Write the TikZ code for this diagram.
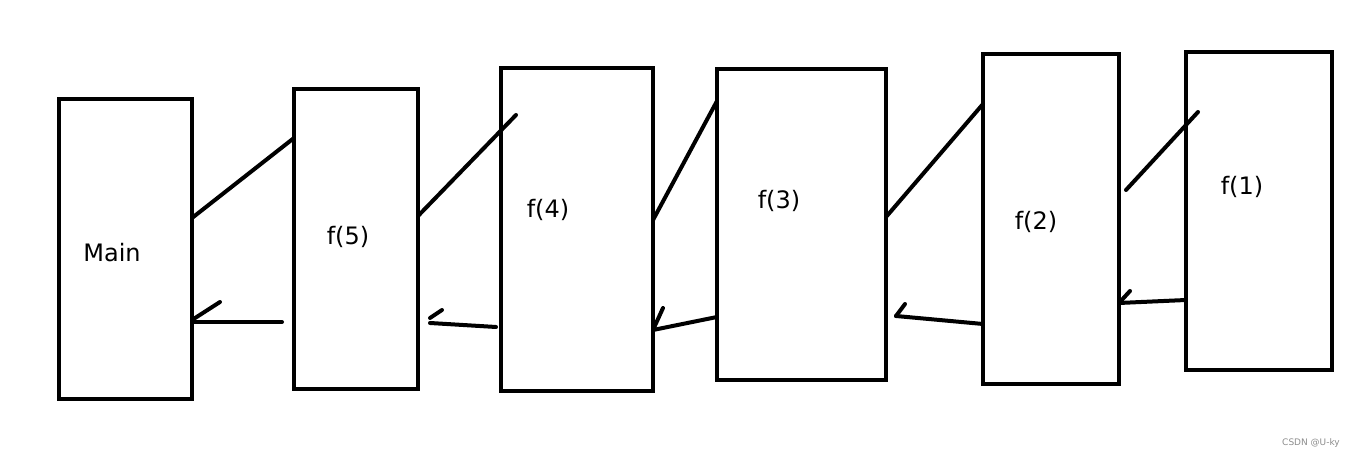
\documentclass[tikz,border=0pt]{standalone}
\usepackage{fontspec}
\setmainfont{DejaVu Sans}
\usetikzlibrary{positioning}

\begin{document}
\begin{tikzpicture}[x=0.5pt,y=-0.5pt,
		frame/.style={draw, line width=2pt, inner sep=0pt, outer sep=0pt},
		link/.style={line width=2pt, line cap=round},
		calltext/.style={font=\fontsize{12}{14}\selectfont}]
		\useasboundingbox (0,0) rectangle (1356,458);
		% frames of the calls
		\node[frame, minimum width=66.5pt, minimum height=150pt] (main) at (125.5,249) {};
		\node[frame, minimum width=62pt, minimum height=150pt] (f5) at (356,239) {};
		\node[frame, minimum width=76pt, minimum height=161.5pt] (f4) at (577,229.5) {};
		\node[frame, minimum width=84.5pt, minimum height=155.5pt] (f3) at (801.5,224.5) {};
		\node[frame, minimum width=68pt, minimum height=165pt] (f2) at (1051,219) {};
		\node[frame, minimum width=73pt, minimum height=159pt] (f1) at (1259,211) {};
		\node[calltext] (tmain) at (112,253) {Main};
		\node[calltext] (t5) at (348,237) {f(5)};
		\node[calltext] (t4) at (548,210) {f(4)};
		\node[calltext] (t3) at (779,201) {f(3)};
		\node[calltext] (t2) at (1036,222) {f(2)};
		\node[calltext] (t1) at (1242,187) {f(1)};
		\node[font=\fontsize{4.5}{5}\selectfont, text=black!45] (mark) at (1311,443) {CSDN @U-ky};
		% calls
		\coordinate (c4) at (516,115);
		\coordinate (c2) at (1126,190);
		\coordinate (c1) at (1198,112);
		\draw[link] (main.east |- 0,218) -- (f5.west |- 0,138);
		\draw[link] (f5.east |- 0,216) -- (c4);
		\draw[link] (f4.east |- 0,220) -- (f3.west |- 0,101);
		\draw[link] (f3.east |- 0,217) -- (f2.west |- 0,104);
		\draw[link] (c2) -- (c1);
		% returns
		\coordinate (r5) at (282,322);
		\coordinate (r4) at (496,327);
		\coordinate (a5) at (430,323);
		\coordinate (a3) at (896,316);
		\draw[link] (r5) -- (main.east |- 0,322);
		\draw[link] (main.east |- 0,320) -- +(28,-18);
		\draw[link] (r4) -- (a5);
		\draw[link] (a5) ++(0,-5) -- +(12,-8);
		\draw[link] (f3.west |- 0,317) -- (f4.east |- 0,330);
		\draw[link] (f4.east |- 0,330) -- +(10,-22);
		\draw[link] (f2.west |- 0,324) -- (a3);
		\draw[link] (a3) -- +(9,-12);
		\draw[link] (f1.west |- 0,300) -- (f2.east |- 0,303);
		\draw[link] (f2.east |- 0,303) -- +(11,-12);
	\end{tikzpicture}
\end{document}
